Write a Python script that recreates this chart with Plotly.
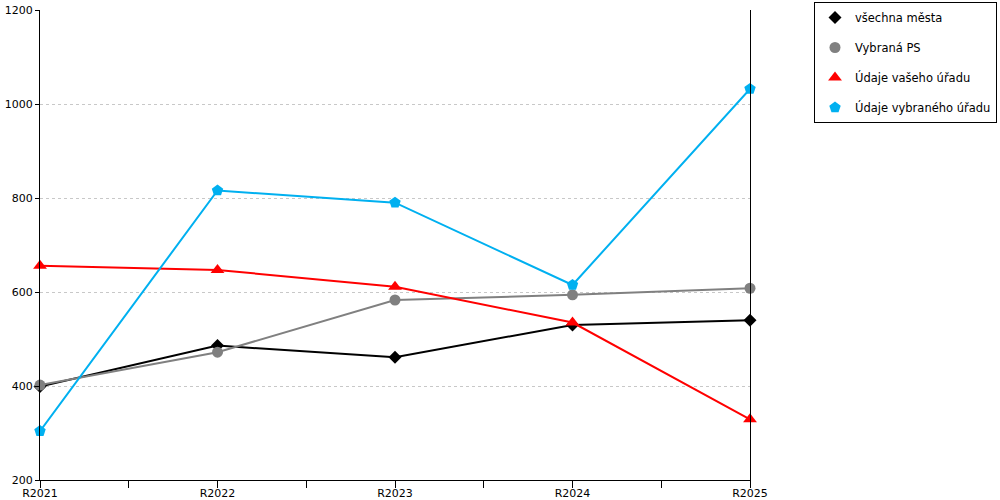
import plotly.graph_objects as go

categories = ["R2021", "R2022", "R2023", "R2024", "R2025"]
vsechna_mesta = [399, 486, 461, 530, 540]
vybrana_ps = [402, 472, 583, 594, 608]
vaseho_uradu = [656, 647, 611, 535, 329]
vybraneho_uradu = [304, 816, 790, 615, 1032]

series = [
    ("všechna města", vsechna_mesta, "#000000", "diamond", 10),
    ("Vybraná PS", vybrana_ps, "#808080", "circle", 11),
    ("Údaje vašeho úřadu", vaseho_uradu, "#ff0000", "triangle-up", 12),
    ("Údaje vybraného úřadu", vybraneho_uradu, "#00b0f0", "pentagon", 12),
]

x_idx = list(range(len(categories)))
fig = go.Figure()
for i, (name, vals, color, sym, size) in enumerate(series):
    fig.add_trace(go.Scatter(
        x=x_idx, y=vals, name=name, mode="lines",
        line=dict(color=color, width=2),
        showlegend=False, legendgroup=f"g{i}", hoverinfo="skip",
    ))
    fig.add_trace(go.Scatter(
        x=x_idx, y=vals, name=name, mode="markers",
        marker=dict(symbol=sym, size=size, color=color),
        legendgroup=f"g{i}", cliponaxis=False,
    ))

W, H = 1000, 500
L, T, PW, PH = 40, 10, 710, 470
fig.update_layout(
    width=W, height=H,
    margin=dict(l=L, r=W - L - PW, t=T, b=H - T - PH, autoexpand=False),
    plot_bgcolor="white", paper_bgcolor="white",
    font=dict(family="DejaVu Sans", size=11, color="#000"),
    showlegend=True,
    legend=dict(
        x=(814 - L) / PW, y=1 + (T - 2) / PH, xanchor="left", yanchor="top",
        bordercolor="#000", borderwidth=1, bgcolor="white",
        tracegroupgap=11, traceorder="grouped", itemwidth=30,
        font=dict(size=11.5),
    ),
    xaxis=dict(
        range=[0, 4], tickmode="array", tickvals=x_idx, ticktext=categories,
        showgrid=False, zeroline=False, showline=True, linecolor="#000", linewidth=1,
        ticks="outside", ticklen=6, tickcolor="#000", ticklabelstandoff=-3,
        minor=dict(dtick=0.5, tick0=0, ticks="outside", ticklen=7, tickcolor="#000"),
        tickfont=dict(size=11), automargin=False, ticklabeloverflow="allow",
    ),
    yaxis=dict(
        range=[200, 1200], dtick=200, tick0=200,
        showgrid=True, gridcolor="#c8c8c8", griddash="dot", gridwidth=1,
        zeroline=False, showline=True, linecolor="#000", linewidth=1, mirror=True,
        ticks="outside", ticklen=4, tickcolor="#000",
        tickfont=dict(size=11), automargin=False, ticklabeloverflow="allow",
    ),
)

fig.write_html("out.html", config={"displayModeBar": False},
               post_script="document.body.style.margin='0';")
